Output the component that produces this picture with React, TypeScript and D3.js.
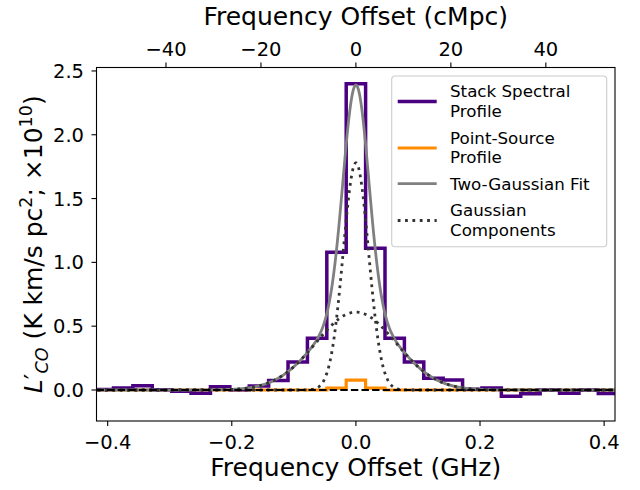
import React from "react";
import * as d3 from "d3";

// ---- data ----
const binCenters = [
  -0.40625, -0.375, -0.34375, -0.3125, -0.28125, -0.25, -0.21875, -0.1875, -0.15625,
  -0.125, -0.09375, -0.0625, -0.03125, 0, 0.03125, 0.0625, 0.09375, 0.125, 0.15625,
  0.1875, 0.21875, 0.25, 0.28125, 0.3125, 0.34375, 0.375, 0.40625,
];
const binWidth = 0.03125;
const stackValues = [
  0.003, 0.015, 0.034, 0.002, -0.01, -0.025, 0.026, 0.002, 0.031, 0.075, 0.22, 0.405,
  1.08, 2.4, 1.11, 0.405, 0.22, 0.092, 0.078, 0.005, 0.015, -0.05, -0.03, 0.0, -0.026,
  0.0, -0.028,
];
const pointSourceValues = [
  0, 0, 0, 0, 0, 0, 0, 0, 0, 0, 0, 0, 0.015, 0.078, 0.015, 0, 0, 0, 0, 0, 0, 0, 0, 0, 0, 0, 0,
];
// Two-Gaussian fit parameters (amplitude, sigma in GHz)
const fitAmplitudes = [1.78, 0.61];
const fitSigmas = [0.0205, 0.0644];
const fitCenter = 0;

const xTicks = [-0.4, -0.2, 0, 0.2, 0.4];
const yTicks = [0, 0.5, 1.0, 1.5, 2.0, 2.5];
const topTicks = [-40, -20, 0, 20, 40];
const cMpcPerGHz = 130.7;

const legendLabels = [
  ["Stack Spectral", "Profile"],
  ["Point-Source", "Profile"],
  ["Two-Gaussian Fit"],
  ["Gaussian", "Components"],
];

const W = 640;
const H = 490;
const M = { left: 96.5, right: 615, top: 67.5, bottom: 421 };
const xDomain = [-0.418, 0.4175];
const yDomain = [-0.243, 2.527];
const FONT = "DejaVu Sans, Liberation Sans, sans-serif";

export default function App() {
  const x = d3.scaleLinear().domain(xDomain).range([M.left, M.right]);
  const y = d3.scaleLinear().domain(yDomain).range([M.bottom, M.top]);
  const xTop = d3
    .scaleLinear()
    .domain([xDomain[0] * cMpcPerGHz, xDomain[1] * cMpcPerGHz])
    .range([M.left, M.right]);

  const stepLine = (vals: number[]) => {
    const edges = binCenters.map((c) => c - binWidth / 2);
    edges.push(binCenters[binCenters.length - 1] + binWidth / 2);
    const pts = edges.map((e, i) => [e, vals[Math.min(i, vals.length - 1)]] as [number, number]);
    return d3
      .line<[number, number]>()
      .x((d) => x(d[0]))
      .y((d) => y(d[1]))
      .curve(d3.curveStepAfter)(pts) as string;
  };

  const grid = d3.range(xDomain[0] - 0.01, xDomain[1] + 0.01, 0.001);
  const gauss = (xx: number, a: number, s: number) =>
    a * Math.exp(-((xx - fitCenter) ** 2) / (2 * s * s));
  const curve = d3
    .line<[number, number]>()
    .x((d) => x(d[0]))
    .y((d) => y(d[1]));
  const fitPath = curve(
    grid.map((g) => [g, gauss(g, fitAmplitudes[0], fitSigmas[0]) + gauss(g, fitAmplitudes[1], fitSigmas[1])])
  ) as string;
  const compPaths = fitAmplitudes.map(
    (a, i) => curve(grid.map((g) => [g, gauss(g, a, fitSigmas[i])])) as string
  );

  const fmtX = d3.format(".1f");
  const tickFs = 19.5;
  const labelFs = 25;
  const legFs = 16.7;

  const purple = "#4b0082";
  const orange = "#ff8c00";
  const gray = "#808080";
  const dotc = "#333333";

  const legendRows = [
    { y: 101.5, lines: [90.7, 110.7], stroke: purple, w: 3.5, dash: undefined as string | undefined },
    { y: 148, lines: [137.7, 157.3], stroke: orange, w: 3.2, dash: undefined },
    { y: 183.7, lines: [183.7], stroke: gray, w: 2.8, dash: undefined },
    { y: 220.5, lines: [210, 230], stroke: dotc, w: 2.8, dash: "2.78,4.58" },
  ];

  return (
    <svg
      width={W}
      height={H}
      style={{ position: "absolute", left: 0, top: 0, background: "#fff" }}
      fontFamily={FONT}
    >
      <defs>
        <clipPath id="plotclip">
          <rect x={M.left} y={M.top} width={M.right - M.left} height={M.bottom - M.top} />
        </clipPath>
      </defs>
      <rect x={0} y={0} width={W} height={H} fill="#fff" />

      <g clipPath="url(#plotclip)">
        <path d={stepLine(pointSourceValues)} fill="none" stroke={orange} strokeWidth={3.2} />
        <path d={stepLine(stackValues)} fill="none" stroke={purple} strokeWidth={3.5} />
        <path d={fitPath} fill="none" stroke={gray} strokeWidth={2.8} />
        {compPaths.map((p, i) => (
          <path key={i} d={p} fill="none" stroke={dotc} strokeWidth={2.8} strokeDasharray="2.78,4.58" />
        ))}
        <line
          x1={M.left}
          x2={M.right}
          y1={y(0)}
          y2={y(0)}
          stroke="#000"
          strokeWidth={2}
          strokeDasharray="7.4,3.2"
        />
      </g>

      {/* frame */}
      <rect
        x={M.left}
        y={M.top}
        width={M.right - M.left}
        height={M.bottom - M.top}
        fill="none"
        stroke="#000"
        strokeWidth={1.1}
      />

      {/* bottom axis */}
      {xTicks.map((t) => (
        <g key={"xb" + t}>
          <line x1={x(t)} x2={x(t)} y1={M.bottom} y2={M.bottom + 5} stroke="#000" strokeWidth={1.1} />
          <text x={x(t)} y={449} textAnchor="middle" fontSize={tickFs}>
            {fmtX(t)}
          </text>
        </g>
      ))}
      <text x={(M.left + M.right) / 2} y={476} textAnchor="middle" fontSize={labelFs}>
        Frequency Offset (GHz)
      </text>

      {/* top axis */}
      {topTicks.map((t) => (
        <g key={"xt" + t}>
          <line x1={xTop(t)} x2={xTop(t)} y1={M.top} y2={M.top - 5} stroke="#000" strokeWidth={1.1} />
          <text x={xTop(t)} y={56} textAnchor="middle" fontSize={tickFs}>
            {d3.format("d")(t)}
          </text>
        </g>
      ))}
      <text x={(M.left + M.right) / 2} y={25} textAnchor="middle" fontSize={labelFs}>
        Frequency Offset (cMpc)
      </text>

      {/* left axis */}
      {yTicks.map((t) => (
        <g key={"y" + t}>
          <line x1={M.left} x2={M.left - 5} y1={y(t)} y2={y(t)} stroke="#000" strokeWidth={1.1} />
          <text x={84} y={y(t) + 7} textAnchor="end" fontSize={tickFs}>
            {fmtX(t)}
          </text>
        </g>
      ))}
      <text transform={`translate(42,${(M.top + M.bottom) / 2}) rotate(-90)`} textAnchor="middle" fontSize={labelFs}>
        <tspan fontStyle="italic">L</tspan>
        <tspan>′</tspan>
        <tspan fontStyle="italic" fontSize={17.5} dy={6}>CO</tspan>
        <tspan dy={-6}> (K km/s pc</tspan>
        <tspan fontSize={17.5} dy={-10}>2</tspan>
        <tspan dy={10}>; ×10</tspan>
        <tspan fontSize={17.5} dy={-10}>10</tspan>
        <tspan dy={10}>)</tspan>
      </text>

      {/* legend */}
      <rect
        x={391.7}
        y={76}
        width={215}
        height={170.7}
        rx={3.5}
        fill="#fff"
        fillOpacity={0.8}
        stroke="#cccccc"
        strokeWidth={1.1}
      />
      {legendRows.map((r, i) => (
        <g key={"leg" + i}>
          <line
            x1={397.7}
            x2={436.7}
            y1={r.y}
            y2={r.y}
            stroke={r.stroke}
            strokeWidth={r.w}
            strokeDasharray={r.dash}
          />
          {legendLabels[i].map((txt, j) => (
            <text key={j} x={450} y={r.lines[j] + 6} fontSize={legFs}>
              {txt}
            </text>
          ))}
        </g>
      ))}
    </svg>
  );
}
